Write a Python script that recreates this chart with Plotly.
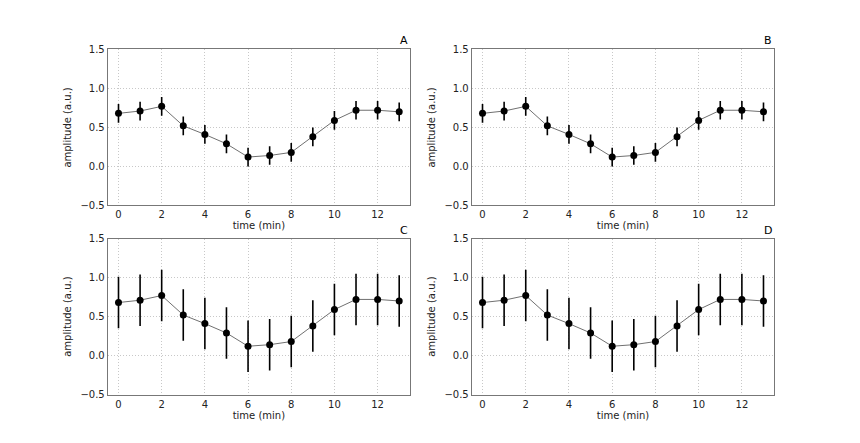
import plotly.graph_objects as go

time_min = list(range(14))
amplitude = [0.68, 0.71, 0.77, 0.52, 0.41, 0.29, 0.12, 0.14, 0.18, 0.38, 0.59, 0.72, 0.72, 0.70]
err_small = [0.12] * 14
err_large = [0.33] * 14
panel_labels = ["A", "B", "C", "D"]
panel_errors = [err_small, err_small, err_large, err_large]
x_ticks = [0, 2, 4, 6, 8, 10, 12]
y_ticks = [-0.5, 0.0, 0.5, 1.0, 1.5]
y_tick_text = ["\u22120.5", "0.0", "0.5", "1.0", "1.5"]

W, H = 860, 443
OFF = 8  # page body margin
def px(x):
    return (x - OFF) / W
def py(y):
    return 1 - (y - OFF) / H

xdoms = [(px(107.7), px(410)), (px(471.7), px(774.3))]
ydoms = [(py(204.3), py(44.3)), (py(398.3), py(238.3))]

font = "DejaVu Sans, sans-serif"
fig = go.Figure()
layout = dict(width=W, height=H, margin=dict(l=0, r=0, t=0, b=0),
              paper_bgcolor="white", plot_bgcolor="white", showlegend=False,
              font=dict(family=font, size=10, color="#222"))
annotations = []
for i in range(4):
    r, c = divmod(i, 2)
    xa = "x" if i == 0 else f"x{i+1}"
    ya = "y" if i == 0 else f"y{i+1}"
    fig.add_trace(go.Scatter(
        x=time_min, y=amplitude, xaxis=xa, yaxis=ya, mode="lines+markers",
        line=dict(color="#707070", width=1),
        marker=dict(color="black", size=7),
        error_y=dict(type="data", array=panel_errors[i], color="black", thickness=1.6, width=0),
    ))
    xkey = "xaxis" if i == 0 else f"xaxis{i+1}"
    ykey = "yaxis" if i == 0 else f"yaxis{i+1}"
    layout[xkey] = dict(domain=list(xdoms[c]), anchor=ya, range=[-0.5, 13.5],
                        tickvals=x_ticks, ticks="",
                        showgrid=True, gridcolor="#c8c8c8", griddash="1px,2px", gridwidth=1,
                        showline=True, linecolor="#777", linewidth=1, mirror=True,
                        zeroline=False, tickfont=dict(size=10, color="#222"),
                        title=dict(text="time (min)", font=dict(size=10, color="#222"), standoff=2))
    layout[ykey] = dict(domain=list(ydoms[r]), anchor=xa, range=[-0.5, 1.5],
                        tickvals=y_ticks, ticktext=y_tick_text, ticks="",
                        showgrid=True, gridcolor="#c8c8c8", griddash="1px,2px", gridwidth=1,
                        showline=True, linecolor="#777", linewidth=1, mirror=True,
                        zeroline=False, tickfont=dict(size=10, color="#222"),
                        title=dict(text="amplitude (a.u.)", font=dict(size=10, color="#222"), standoff=6))
    annotations.append(dict(text=panel_labels[i], xref="paper", yref="paper",
                            x=xdoms[c][1], y=ydoms[r][1], xanchor="right", yanchor="bottom",
                            showarrow=False, font=dict(size=11, color="black")))
layout["annotations"] = annotations
fig.update_layout(**layout)
fig.write_html("out.html")
